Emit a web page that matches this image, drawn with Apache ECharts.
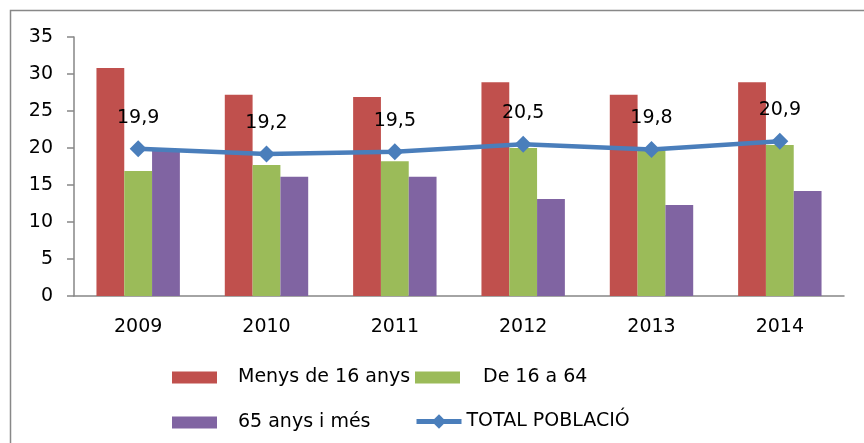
<!DOCTYPE html>
<html>
<head>
<meta charset="utf-8">
<script src="https://cdn.jsdelivr.net/npm/echarts@6/dist/echarts.min.js"></script>
<style>
    html, body { margin: 0; padding: 0; background: #fff; }
    #chart { width: 864px; height: 443px; }
</style>
</head>
<body>
<div id="chart"></div>
<script>
    var years = ['2009', '2010', '2011', '2012', '2013', '2014'];
    var menys16 = [30.8, 27.2, 26.9, 28.9, 27.2, 28.9];
    var de16a64 = [16.9, 17.7, 18.2, 20.0, 19.7, 20.4];
    var majors65 = [19.6, 16.1, 16.1, 13.1, 12.3, 14.2];
    var total = [19.9, 19.2, 19.5, 20.5, 19.8, 20.9];

    var font = 'Verdana, "DejaVu Sans", sans-serif';
    var chart = echarts.init(document.getElementById('chart'));

    function legendAt(name, left, top, pad, isLine) {
        var lg = {
            data: [name],
            left: left,
            top: top,
            itemWidth: 45,
            itemHeight: 12,
            selectedMode: false,
            textStyle: { fontFamily: font, fontSize: 19, color: '#000', padding: [0, 0, 0, pad] }
        };
        if (isLine) {
            lg.itemHeight = 18;
            lg.lineStyle = { width: 5 };
        } else {
            lg.icon = 'rect';
        }
        return lg;
    }

    chart.setOption({
        animation: false,
        graphic: [{
            type: 'rect',
            shape: { x: 10.5, y: 10.5, width: 900, height: 500 },
            style: { fill: 'none', stroke: '#888', lineWidth: 1.5 },
            silent: true
        }],
        legend: [
            legendAt('Menys de 16 anys', 167, 363, 16, false),
            legendAt('De 16 a 64', 410, 363, 18, false),
            legendAt('65 anys i més', 167, 408, 16, false),
            legendAt('TOTAL POBLACIÓ', 409, 407, 0, true)
        ],
        grid: { left: 74, right: 20, top: 37, bottom: 147 },
        xAxis: {
            type: 'category',
            data: years,
            axisLine: { lineStyle: { color: '#868686', width: 1.5 } },
            axisTick: { length: 8, lineStyle: { color: '#868686', width: 1.5 } },
            axisLabel: { color: '#000', fontFamily: font, fontSize: 19, margin: 22 }
        },
        yAxis: {
            type: 'value',
            min: 0,
            max: 35,
            interval: 5,
            splitLine: { show: false },
            axisLine: { show: true, lineStyle: { color: '#868686', width: 1.5 } },
            axisTick: { show: true, length: 7, lineStyle: { color: '#868686', width: 1.5 } },
            axisLabel: { color: '#000', fontFamily: font, fontSize: 19, margin: 21 }
        },
        series: [
            {
                name: 'Menys de 16 anys',
                type: 'bar',
                data: menys16,
                barGap: 0,
                barCategoryGap: '35%',
                itemStyle: { color: '#c0504d' }
            },
            {
                name: 'De 16 a 64',
                type: 'bar',
                data: de16a64,
                itemStyle: { color: '#9bbb59' }
            },
            {
                name: '65 anys i més',
                type: 'bar',
                data: majors65,
                itemStyle: { color: '#8064a2' }
            },
            {
                name: 'TOTAL POBLACIÓ',
                type: 'line',
                data: total,
                z: 5,
                symbol: 'diamond',
                symbolSize: 17,
                lineStyle: { color: '#4a7ebb', width: 4.5 },
                itemStyle: { color: '#4a7ebb' },
                label: {
                    show: true,
                    position: 'top',
                    distance: 13,
                    fontFamily: font,
                    fontSize: 19,
                    color: '#000',
                    formatter: function (p) {
                        return p.value.toFixed(1).replace('.', ',');
                    }
                }
            }
        ]
    });
</script>
</body>
</html>
